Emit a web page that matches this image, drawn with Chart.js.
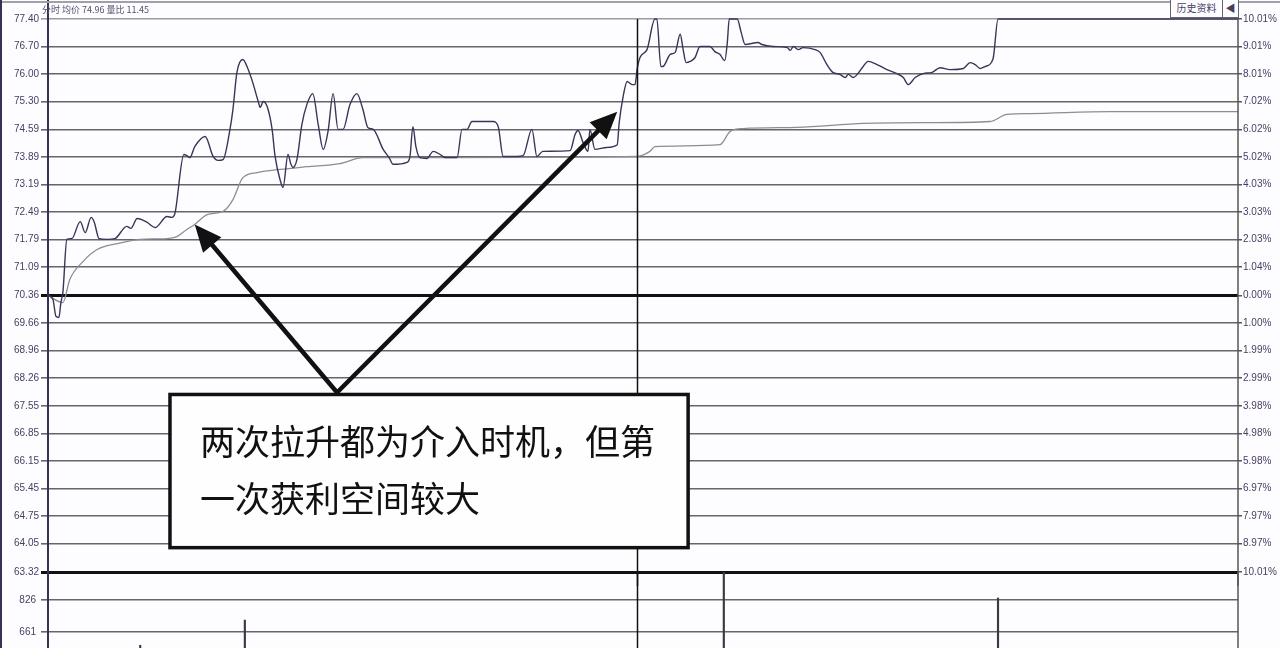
<!DOCTYPE html>
<html>
<head>
<meta charset="utf-8">
<script src="https://cdn.jsdelivr.net/npm/chart.js@4.4.0/dist/chart.umd.min.js"></script>
<style>
html, body { margin: 0; padding: 0; background: #fff; overflow: hidden; }
#wrap { position: relative; width: 1280px; height: 648px; overflow: hidden; background: #fdfdff; }
#precio { position: absolute; left: 0; top: 0; }
#volumen { position: absolute; left: 0; top: 560px; }
.cab { position: absolute; top: 3px; left: 42px; font: 9px "Noto Sans CJK SC"; color: #5a4d6e; white-space: nowrap; }
.boton { position: absolute; top: 0; height: 17px; border: 1px solid #666; border-top: none; font: 10px "Noto Sans CJK SC"; color: #4a3c60; text-align: center; line-height: 16px; background: #fdfdff; }
.marco { position: absolute; left: 0; top: 0; width: 2px; height: 648px; background: #3b2f55; }
.techo { position: absolute; left: 0; top: 1px; width: 1280px; height: 2px; background: #a0a0a8; }
</style>
</head>
<body>
<div id="wrap">
  <canvas id="precio" width="1280" height="586"></canvas>
  <canvas id="volumen" width="1280" height="100"></canvas>
  <div class="techo"></div>
  <div class="marco"></div>
  <div class="cab">分时 均价 74.96 量比 11.45</div>
  <div class="boton" style="left:1170px;width:51px;">历史资料</div>
  <div class="boton" style="left:1222px;width:15px;">◀</div>
</div>
<script>
// Datos (minuto de la sesion, precio)
const tiempoPrecio = [0,1,1.6,2.2,2.6,3,3.8,4.8,6.5,7.5,
  8.7,9.3,10.3,11.9,13.5,15.9,16.7,18,20,21.6,
  24,25,25.6,27.4,28,28.6,29.6,31.7,33.3,34.3,
  35.3,36.7,37.3,38.1,39.3,40.3,41.3,42.4,42.8,43.4,
  44.2,45.2,45.8,46.8,47.4,48.4,49,49.4,50.2,51.2,
  52.2,53.4,54.5,55.5,56.5,57.5,58.5,59.5,60.9,62.3,
  63.5,64.5,65.6,67.6,68.8,69.6,72.4,73,73.6,74.2,
  75,76.4,77.7,79.1,80.1,82.5,83.5,84.5,85.5,89.8,
  90.8,91.8,94.6,95.8,97.6,98.6,99.8,105.3,106.3,106.9,
  107.9,108.9,109.3,110.3,112.7,114.8,115.2,116,116.8,117.8,
  118.4,118.8,119.4,120.8,122.4,122.8,123.6,124,125.5,126.5,
  127.5,128.1,128.7,129.5,130.5,131.5,133.5,134.5,135.5,136.5,
  137,137.4,139,139.8,140.6,143.2,144,146.2,149.1,149.7,
  150.3,151.3,152.3,154.7,155.7,157.1,158.3,159.7,160.8,161.4,
  162.4,163.2,164.4,165.4,167.2,169.2,171.2,172.5,173.5,174.9,
  176.5,178.3,179.9,181.9,184.6,186,187,188,189,190.6,
  191.6,240];
const precio = [70.36,70.26,69.83,69.80,70.18,70.44,71.79,71.81,72.24,71.96,
  72.35,72.24,71.81,71.79,71.81,72.12,72.07,72.32,72.22,72.09,
  72.37,72.35,72.45,73.95,73.92,73.87,74.15,74.41,73.90,73.80,
  73.82,74.59,75.10,76.04,76.37,76.14,75.78,75.30,75.15,75.30,
  75.17,74.59,73.90,73.31,73.11,73.95,73.70,73.62,73.82,74.71,
  75.22,75.50,74.71,74.08,74.56,75.50,74.59,74.59,75.22,75.50,
  75.10,74.64,74.59,74.08,73.87,73.70,73.75,73.90,74.66,74.15,
  73.87,73.85,74.03,73.95,73.87,73.87,74.59,74.59,74.79,74.79,
  74.66,73.90,73.90,73.92,74.59,73.90,74.03,74.05,74.46,74.56,
  74.26,74.03,74.59,74.08,74.13,74.20,74.76,75.43,75.81,75.73,
  75.73,76.11,76.42,76.62,77.40,77.40,76.19,76.19,76.50,76.55,
  77.01,76.62,76.29,76.32,76.42,76.70,76.70,76.57,76.50,76.34,
  76.80,77.40,77.40,77.06,76.75,76.80,76.75,76.70,76.67,76.60,
  76.70,76.62,76.67,76.62,76.55,76.24,76.04,75.99,75.91,75.99,
  75.91,75.99,76.19,76.32,76.24,76.11,76.01,75.91,75.73,75.91,
  76.01,76.04,76.16,76.11,76.14,76.29,76.24,76.14,76.19,76.39,
  77.40,77.40];

// Linea de precio medio
const tiempoMedia = [0,3,4.4,7.1,9.9,13.9,18.6,24,26,28,29.6,32.1,35.3,37.3,39.3,42.2,46.8,52.2,58.9,63.5,69,
  118.6,121.4,122.4,135.5,137.6,140.2,151.1,164.4,177.9,190,193.4,198.1,214.2,240];
const media = [70.36,70.18,70.77,71.23,71.53,71.68,71.79,71.81,71.86,72.04,72.17,72.42,72.50,72.80,73.36,73.49,73.57,73.64,73.72,73.87,73.87,
  73.90,74.03,74.15,74.20,74.54,74.61,74.64,74.74,74.76,74.79,74.97,74.99,75.04,75.04];

// Volumen (solo las barras visibles)
const tiempoVol = [18.6, 39.7, 136.3, 191.6];
const volumen = [592, 722, 1050, 836];

// Etiquetas de los ejes
const preciosEje = [77.40,76.70,76.00,75.30,74.59,73.89,73.19,72.49,71.79,71.09,70.36,
  69.66,68.96,68.26,67.55,66.85,66.15,65.45,64.75,64.05,63.32];
const porcentajes = ["10.01%","9.01%","8.01%","7.02%","6.02%","5.02%","4.03%","3.03%","2.03%","1.04%","0.00%",
  "1.00%","1.99%","2.99%","3.98%","4.98%","5.98%","6.97%","7.97%","8.97%","10.01%"];
const volEje = [826, 661];
const volMin = 578, volMax = 970;
const cierreAnterior = 70.36;
const minutoCorte = 118.8;

// Nota: posiciones en unidades del grafico (minuto, precio)
const notaCaja = { t0: 24.6, t1: 129.1, p0: 67.84, p1: 63.94 };
const notaBase = { t: 58.3, p: 67.89 };
const notaPuntas = [{ t: 29.6, p: 72.17 }, { t: 114.8, p: 75.04 }];
const notaTexto = ["两次拉升都为介入时机，但第", "一次获利空间较大"];

Chart.defaults.font.family = "'Liberation Sans', sans-serif";

function flecha(ctx, x0, y0, x1, y1) {
    const ang = Math.atan2(y1 - y0, x1 - x0);
    const largo = 27, ancho = 12;
    const bx = x1 - largo * Math.cos(ang), by = y1 - largo * Math.sin(ang);
    ctx.beginPath(); ctx.moveTo(x0, y0); ctx.lineTo(bx, by); ctx.stroke();
    ctx.beginPath();
    ctx.moveTo(x1, y1);
    ctx.lineTo(bx + ancho * Math.sin(ang), by - ancho * Math.cos(ang));
    ctx.lineTo(bx - ancho * Math.sin(ang), by + ancho * Math.cos(ang));
    ctx.closePath(); ctx.fill();
}

// Lineas verticales, cuadro y flechas
const extras = {
    id: 'extras',
    afterDraw(chart) {
        const ctx = chart.ctx, a = chart.chartArea;
        const xs = chart.scales.x, ys = chart.scales.y;
        ctx.save();
        const xm = Math.round(xs.getPixelForValue(minutoCorte)) + 0.5;
        ctx.strokeStyle = '#111'; ctx.lineWidth = 1.5;
        ctx.beginPath(); ctx.moveTo(xm, a.top); ctx.lineTo(xm, chart.height); ctx.stroke();
        ctx.strokeStyle = '#3b2f55'; ctx.lineWidth = 2;
        ctx.beginPath(); ctx.moveTo(a.left, 0); ctx.lineTo(a.left, chart.height); ctx.stroke();
        ctx.strokeStyle = '#555'; ctx.lineWidth = 1.5;
        ctx.beginPath(); ctx.moveTo(a.right, a.top); ctx.lineTo(a.right, chart.height); ctx.stroke();

        if (chart.canvas.id === 'precio') {
            const x0 = xs.getPixelForValue(notaCaja.t0), x1 = xs.getPixelForValue(notaCaja.t1);
            const y0 = ys.getPixelForValue(notaCaja.p0), y1 = ys.getPixelForValue(notaCaja.p1);
            ctx.fillStyle = '#fefefe';
            ctx.fillRect(x0, y0, x1 - x0, y1 - y0);
            ctx.strokeStyle = '#111'; ctx.lineWidth = 3.5;
            ctx.strokeRect(x0, y0, x1 - x0, y1 - y0);
            ctx.fillStyle = '#111';
            ctx.font = '35px "Noto Sans CJK SC"';
            ctx.textBaseline = 'middle';
            ctx.fillText(notaTexto[0], x0 + 30, y0 + 47);
            ctx.fillText(notaTexto[1], x0 + 30, y0 + 104);

            const bx = xs.getPixelForValue(notaBase.t), by = ys.getPixelForValue(notaBase.p);
            ctx.lineWidth = 4.5; ctx.lineCap = 'round';
            notaPuntas.forEach(p => {
                flecha(ctx, bx, by, xs.getPixelForValue(p.t), ys.getPixelForValue(p.p));
            });
        }
        ctx.restore();
    }
};

const colorGrid = '#65656d';
const estiloTicks = { color: '#4a3c60', font: { size: 10 }, autoSkip: false };

new Chart(document.getElementById('precio'), {
    type: 'line',
    data: {
        datasets: [
            {
                data: tiempoPrecio.map((t, i) => ({ x: t, y: precio[i] })),
                borderColor: '#3d3358',
                borderWidth: 1.4,
                pointRadius: 0,
                cubicInterpolationMode: 'monotone',
                clip: 4
            },
            {
                data: tiempoMedia.map((t, i) => ({ x: t, y: media[i] })),
                borderColor: '#8c8c94',
                borderWidth: 1.3,
                pointRadius: 0,
                cubicInterpolationMode: 'monotone',
                clip: 4
            }
        ]
    },
    options: {
        responsive: false,
        animation: false,
        layout: { padding: { top: 19, bottom: 14 } },
        plugins: { legend: { display: false }, tooltip: { enabled: false } },
        scales: {
            x: { type: 'linear', min: 0, max: 240, offset: false, display: false },
            y: {
                min: 63.32, max: 77.40,
                afterBuildTicks: s => { s.ticks = preciosEje.map(v => ({ value: v })); },
                afterFit: s => { s.width = 48; },
                ticks: Object.assign({ padding: 2, callback: (v, i) => preciosEje[i].toFixed(2) }, estiloTicks),
                grid: {
                    tickLength: 7,
                    color: c => (c.tick && (c.tick.value === cierreAnterior || c.tick.value === 63.32)) ? '#111' :
                        (c.tick && c.tick.value === 77.40 ? '#9a9aa2' : colorGrid),
                    lineWidth: c => (c.tick && (c.tick.value === cierreAnterior || c.tick.value === 63.32)) ? 3 : 1.6
                },
                border: { display: false }
            },
            y2: {
                position: 'right',
                min: 63.32, max: 77.40,
                afterBuildTicks: s => { s.ticks = preciosEje.map(v => ({ value: v })); },
                afterFit: s => { s.width = 42; },
                ticks: Object.assign({ padding: 1, callback: (v, i) => porcentajes[i] }, estiloTicks),
                grid: { drawOnChartArea: false, tickLength: 4, color: '#555', lineWidth: 1.5 },
                border: { display: false }
            }
        }
    },
    plugins: [extras]
});

new Chart(document.getElementById('volumen'), {
    type: 'bar',
    data: {
        datasets: [{
            data: tiempoVol.map((t, i) => ({ x: t, y: volumen[i] })),
            backgroundColor: '#3a3a42',
            barThickness: 1.5
        }]
    },
    options: {
        responsive: false,
        animation: false,
        layout: { padding: { top: 12, bottom: 12 } },
        plugins: { legend: { display: false }, tooltip: { enabled: false } },
        scales: {
            x: { type: 'linear', min: 0, max: 240, offset: false, grid: { offset: false }, display: false },
            y: {
                min: volMin, max: volMax,
                afterBuildTicks: s => { s.ticks = volEje.map(v => ({ value: v })); },
                afterFit: s => { s.width = 48; },
                ticks: Object.assign({ padding: 5, callback: (v, i) => String(volEje[i]) }, estiloTicks),
                grid: { tickLength: 7, color: colorGrid, lineWidth: 1.6 },
                border: { display: false }
            },
            y2: {
                position: 'right',
                min: volMin, max: volMax,
                afterFit: s => { s.width = 42; },
                ticks: { display: false },
                grid: { display: false },
                border: { display: false }
            }
        }
    },
    plugins: [extras]
});
</script>
</body>
</html>
